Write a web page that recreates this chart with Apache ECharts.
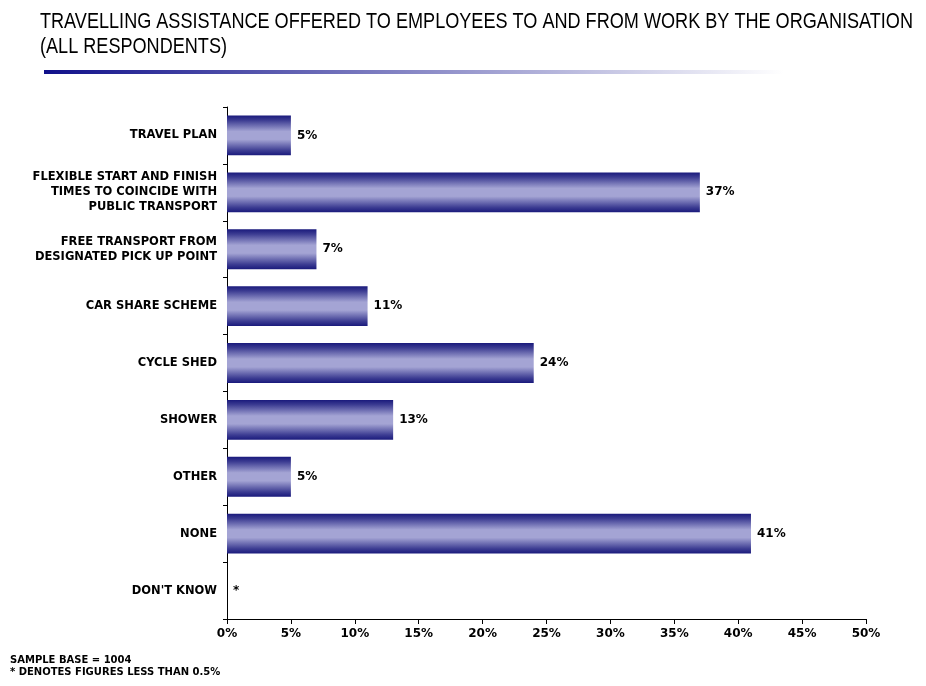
<!DOCTYPE html>
<html>
<head>
<meta charset="utf-8">
<script src="https://cdn.jsdelivr.net/npm/echarts@6/dist/echarts.min.js"></script>
<style>
html,body{margin:0;padding:0;background:#fff;}
#chart{width:926px;height:686px;}
</style>
</head>
<body>
<div id="chart"></div>
<script>
// Survey answers, top to bottom
const categories = [
  'TRAVEL PLAN',
  'FLEXIBLE START AND FINISH\nTIMES TO COINCIDE WITH\nPUBLIC TRANSPORT',
  'FREE TRANSPORT FROM\nDESIGNATED PICK UP POINT',
  'CAR SHARE SCHEME',
  'CYCLE SHED',
  'SHOWER',
  'OTHER',
  'NONE',
  "DON'T KNOW"
];
// Percent of respondents
const values = [5, 37, 7, 11, 24, 13, 5, 41, 0];
// Printed value labels ("*" = under 0.5%)
const valueLabels = ['5%', '37%', '7%', '11%', '24%', '13%', '5%', '41%', '*'];
const xTicks = [0, 5, 10, 15, 20, 25, 30, 35, 40, 45, 50];

const titleLine1 = 'TRAVELLING ASSISTANCE OFFERED TO EMPLOYEES TO AND FROM WORK BY THE ORGANISATION';
const titleLine2 = '(ALL RESPONDENTS)';
const titleFont = '22px "Liberation Sans", Arial, sans-serif';

// The heading uses a condensed face: squeeze the regular face to the same width
const ctx = document.createElement('canvas').getContext('2d');
ctx.font = titleFont;
const titleScale = 873 / ctx.measureText(titleLine1).width;

const chart = echarts.init(document.getElementById('chart'));

const barFill = new echarts.graphic.LinearGradient(0, 0, 0, 1, [
  {offset: 0, color: '#1a1a7c'},
  {offset: 0.12, color: '#3c3c92'},
  {offset: 0.4, color: '#a4a4d4'},
  {offset: 0.6, color: '#a4a4d4'},
  {offset: 0.88, color: '#3c3c92'},
  {offset: 1, color: '#1a1a7c'}
]);

const boldLabel = {color: '#000', fontFamily: 'DejaVu Sans', fontWeight: 'bold'};

chart.setOption({
  animation: false,
  backgroundColor: '#ffffff',
  grid: {left: 227, right: 60, top: 107, bottom: 67, containLabel: false},
  xAxis: {
    type: 'value',
    min: 0, max: 50, interval: 5,
    axisLine: {show: true, lineStyle: {color: '#000', width: 1}},
    axisTick: {show: true, length: 5, lineStyle: {color: '#000'}},
    splitLine: {show: false},
    axisLabel: Object.assign({
      formatter: v => xTicks.includes(v) ? v + '%' : '',
      fontSize: 12, margin: 9
    }, boldLabel)
  },
  yAxis: {
    type: 'category',
    data: categories,
    inverse: true,
    axisLine: {show: true, lineStyle: {color: '#000', width: 1}},
    axisTick: {show: true, length: 4, lineStyle: {color: '#000'}},
    axisLabel: Object.assign({
      fontSize: 11.5, align: 'right', margin: 10, lineHeight: 15
    }, boldLabel)
  },
  series: [{
    type: 'bar',
    data: values,
    barCategoryGap: '30%',
    itemStyle: {color: barFill},
    label: Object.assign({
      show: true, position: 'right', distance: 6,
      formatter: p => valueLabels[p.dataIndex],
      fontSize: 12
    }, boldLabel)
  }],
  graphic: [
    {
      type: 'text', x: 40, y: 11, scaleX: titleScale,
      style: {text: titleLine1, fill: '#000', font: titleFont, verticalAlign: 'top'}
    },
    {
      type: 'text', x: 40, y: 36, scaleX: titleScale,
      style: {text: titleLine2, fill: '#000', font: titleFont, verticalAlign: 'top'}
    },
    {
      type: 'rect', shape: {x: 44, y: 70, width: 740, height: 4},
      style: {
        fill: new echarts.graphic.LinearGradient(0, 0, 1, 0, [
          {offset: 0, color: '#10108a'},
          {offset: 0.45, color: '#7c7cc0'},
          {offset: 1, color: '#ffffff'}
        ])
      }
    },
    {
      type: 'text', x: 10, y: 654,
      style: {
        text: 'SAMPLE BASE = 1004\n* DENOTES FIGURES LESS THAN 0.5%',
        fill: '#000', font: 'bold 10px "DejaVu Sans", sans-serif', lineHeight: 12
      }
    }
  ]
});
</script>
</body>
</html>
